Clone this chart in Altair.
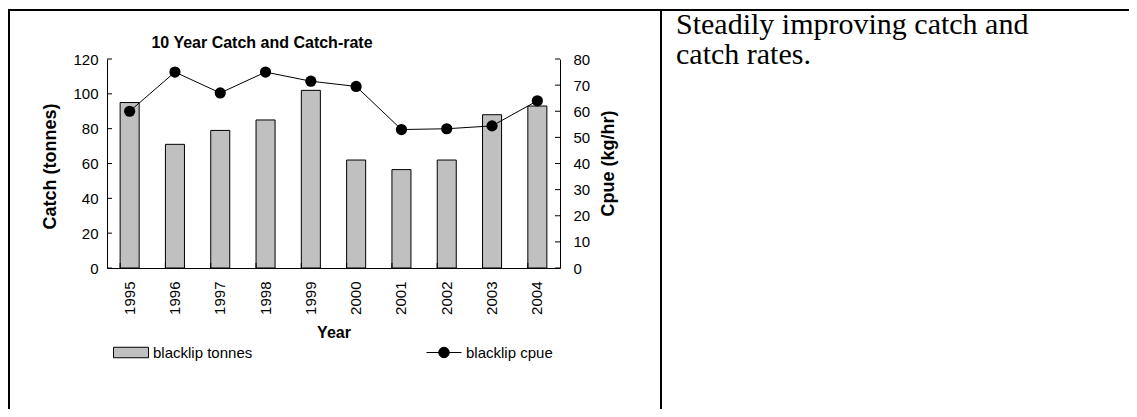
import altair as alt
import pandas as pd

# ---- data ----
years = ['1995', '1996', '1997', '1998', '1999', '2000', '2001', '2002', '2003', '2004']
catch_tonnes = [95, 71, 79, 85, 102, 62, 56.5, 62, 88, 93]
cpue = [60, 75, 67, 75, 71.5, 69.5, 53, 53.3, 54.4, 64]
left_ticks = [0, 20, 40, 60, 80, 100, 120]
right_ticks = [0, 10, 20, 30, 40, 50, 60, 70, 80]
bar_series = 'blacklip tonnes'
line_series = 'blacklip cpue'
chart_title = '10 Year Catch and Catch-rate'
comment_lines = ['Steadily improving catch and', 'catch rates.']

df = pd.DataFrame({'year': years, 'catch': catch_tonnes, 'cpue': cpue,
                   'bar_series': bar_series, 'line_series': line_series})
left_df = pd.DataFrame({'v': left_ticks})
right_df = pd.DataFrame({'v': right_ticks})
one = pd.DataFrame({'k': [0]})

W, H = 453, 209
TOTAL_W, TOTAL_H = 1121, 401
PAD_L, PAD_T = 99, 51
FONT = 'Liberation Sans'
SERIF = 'Liberation Serif'

x_scale = alt.Scale(paddingInner=0.58, paddingOuter=0.29)
x_axis = alt.Axis(labelAngle=270, labelFont=FONT, labelFontSize=15,
                  labelColor='black', labelPadding=13, ticks=False, tickSize=0,
                  labelOverlap=False,
                  domainColor='black', domainWidth=1,
                  titleFont=FONT, titleFontSize=16, titleFontWeight='bold',
                  titleColor='black', titleX=W / 2, titleY=69,
                  titleAlign='center', titleBaseline='alphabetic')

y_left_scale = alt.Scale(domain=[0, 120], nice=False)
y_right_scale = alt.Scale(domain=[0, 80], nice=False)

left_axis = alt.Axis(values=left_ticks, orient='left', title='Catch (tonnes)',
                     ticks=False, tickSize=0, labelPadding=9, grid=False,
                     labelOverlap=False, labelFlush=False, labelSeparation=0,
                     domainColor='black', labelFont=FONT, labelFontSize=15,
                     labelColor='black', titleFont=FONT, titleFontSize=18,
                     titleFontWeight='bold', titleColor='black', titleAngle=270,
                     titleX=-57, titleY=107, titleAlign='center',
                     titleBaseline='middle')
right_axis = alt.Axis(values=right_ticks, orient='right', title='Cpue (kg/hr)',
                      ticks=False, tickSize=0, labelPadding=13, grid=False,
                      labelOverlap=False, labelFlush=False, labelSeparation=0,
                      domainColor='black', labelFont=FONT, labelFontSize=15,
                      labelColor='black', titleFont=FONT, titleFontSize=18,
                      titleFontWeight='bold', titleColor='black', titleAngle=270,
                      titleX=48, titleY=104, titleAlign='center',
                      titleBaseline='middle')

bars = alt.Chart(df).mark_bar(stroke='black', strokeWidth=1).encode(
    x=alt.X('year:O', title='Year', scale=x_scale, axis=x_axis),
    y=alt.Y('catch:Q', scale=y_left_scale, axis=left_axis),
    fill=alt.Fill('bar_series:N', scale=alt.Scale(range=['#c0c0c0']),
                  legend=alt.Legend(orient='none', legendX=6, legendY=275.5, title=None,
                                    padding=0, symbolType='M-1,-0.3H1V0.3H-1Z',
                                    symbolSize=1225, symbolStrokeColor='black',
                                    symbolStrokeWidth=1, labelFont=FONT,
                                    labelFontSize=15, labelColor='black',
                                    labelOffset=4))
)

lticks = alt.Chart(left_df).mark_rule(color='black', strokeWidth=1).encode(
    y=alt.Y('v:Q', scale=y_left_scale, axis=left_axis),
    x=alt.value(0), x2=alt.value(5))

xticks = alt.Chart(df).mark_rule(color='black', strokeWidth=1).encode(
    x=alt.X('year:O', title='Year', bandPosition=0, scale=x_scale, axis=x_axis),
    y=alt.value(H), y2=alt.value(H - 5))

line = alt.Chart(df).mark_line(strokeWidth=1).encode(
    x=alt.X('year:O', title='Year', scale=x_scale, axis=x_axis),
    y=alt.Y('cpue:Q', scale=y_right_scale, axis=right_axis),
    stroke=alt.Stroke('line_series:N', scale=alt.Scale(range=['black']),
                      legend=alt.Legend(orient='none', legendX=319, legendY=275.5,
                                        title=None, padding=0,
                                        symbolType='M-1,0H1M-0.3,0A0.3,0.3,0,1,0,0.3,0A0.3,0.3,0,1,0,-0.3,0Z',
                                        symbolSize=1225, symbolFillColor='black',
                                        symbolStrokeWidth=1, labelFont=FONT,
                                        labelFontSize=15, labelColor='black',
                                        labelOffset=4))
)

points = alt.Chart(df).mark_circle(size=125, color='black', opacity=1).encode(
    x=alt.X('year:O', title='Year', scale=x_scale, axis=x_axis),
    y=alt.Y('cpue:Q', scale=y_right_scale, axis=right_axis))

rticks = alt.Chart(right_df).mark_rule(color='black', strokeWidth=1).encode(
    y=alt.Y('v:Q', scale=y_right_scale, axis=right_axis),
    x=alt.value(W - 5), x2=alt.value(W))

left_layer = alt.layer(bars, lticks, xticks)
right_layer = alt.layer(line, points, rticks)

# ---- page decorations (table borders, texts) ----
top_border = alt.Chart(one).mark_rule(color='black', strokeWidth=2).encode(
    x=alt.value(-PAD_L), x2=alt.value(TOTAL_W - PAD_L), y=alt.value(-49))
left_border = alt.Chart(one).mark_rule(color='black', strokeWidth=2).encode(
    x=alt.value(-PAD_L + 1), y=alt.value(-50), y2=alt.value(TOTAL_H - PAD_T))
mid_border = alt.Chart(one).mark_rule(color='black', strokeWidth=2).encode(
    x=alt.value(554), y=alt.value(-50), y2=alt.value(TOTAL_H - PAD_T))

title_text = alt.Chart(one).mark_text(
    text=chart_title, font=FONT, fontSize=16, fontWeight='bold', color='black',
    align='center', baseline='alphabetic').encode(x=alt.value(155), y=alt.value(-11))

comment_text = alt.Chart(one).mark_text(
    text=comment_lines, font=SERIF, fontSize=30, lineHeight=30, color='black',
    align='left', baseline='alphabetic').encode(x=alt.value(569), y=alt.value(-25))

chart = alt.layer(
    left_layer, right_layer,
    top_border, left_border, mid_border, title_text, comment_text
).resolve_scale(y='independent').properties(
    width=W, height=H,
    padding={'left': PAD_L, 'top': PAD_T, 'right': TOTAL_W - PAD_L - W,
             'bottom': TOTAL_H - PAD_T - H},
    autosize=alt.AutoSizeParams(type='none'),
    background='white'
).configure_view(stroke=None).configure_axis(grid=False, labelOverlap=False)

chart.save('out.html', embed_options={'renderer': 'svg', 'actions': False})
